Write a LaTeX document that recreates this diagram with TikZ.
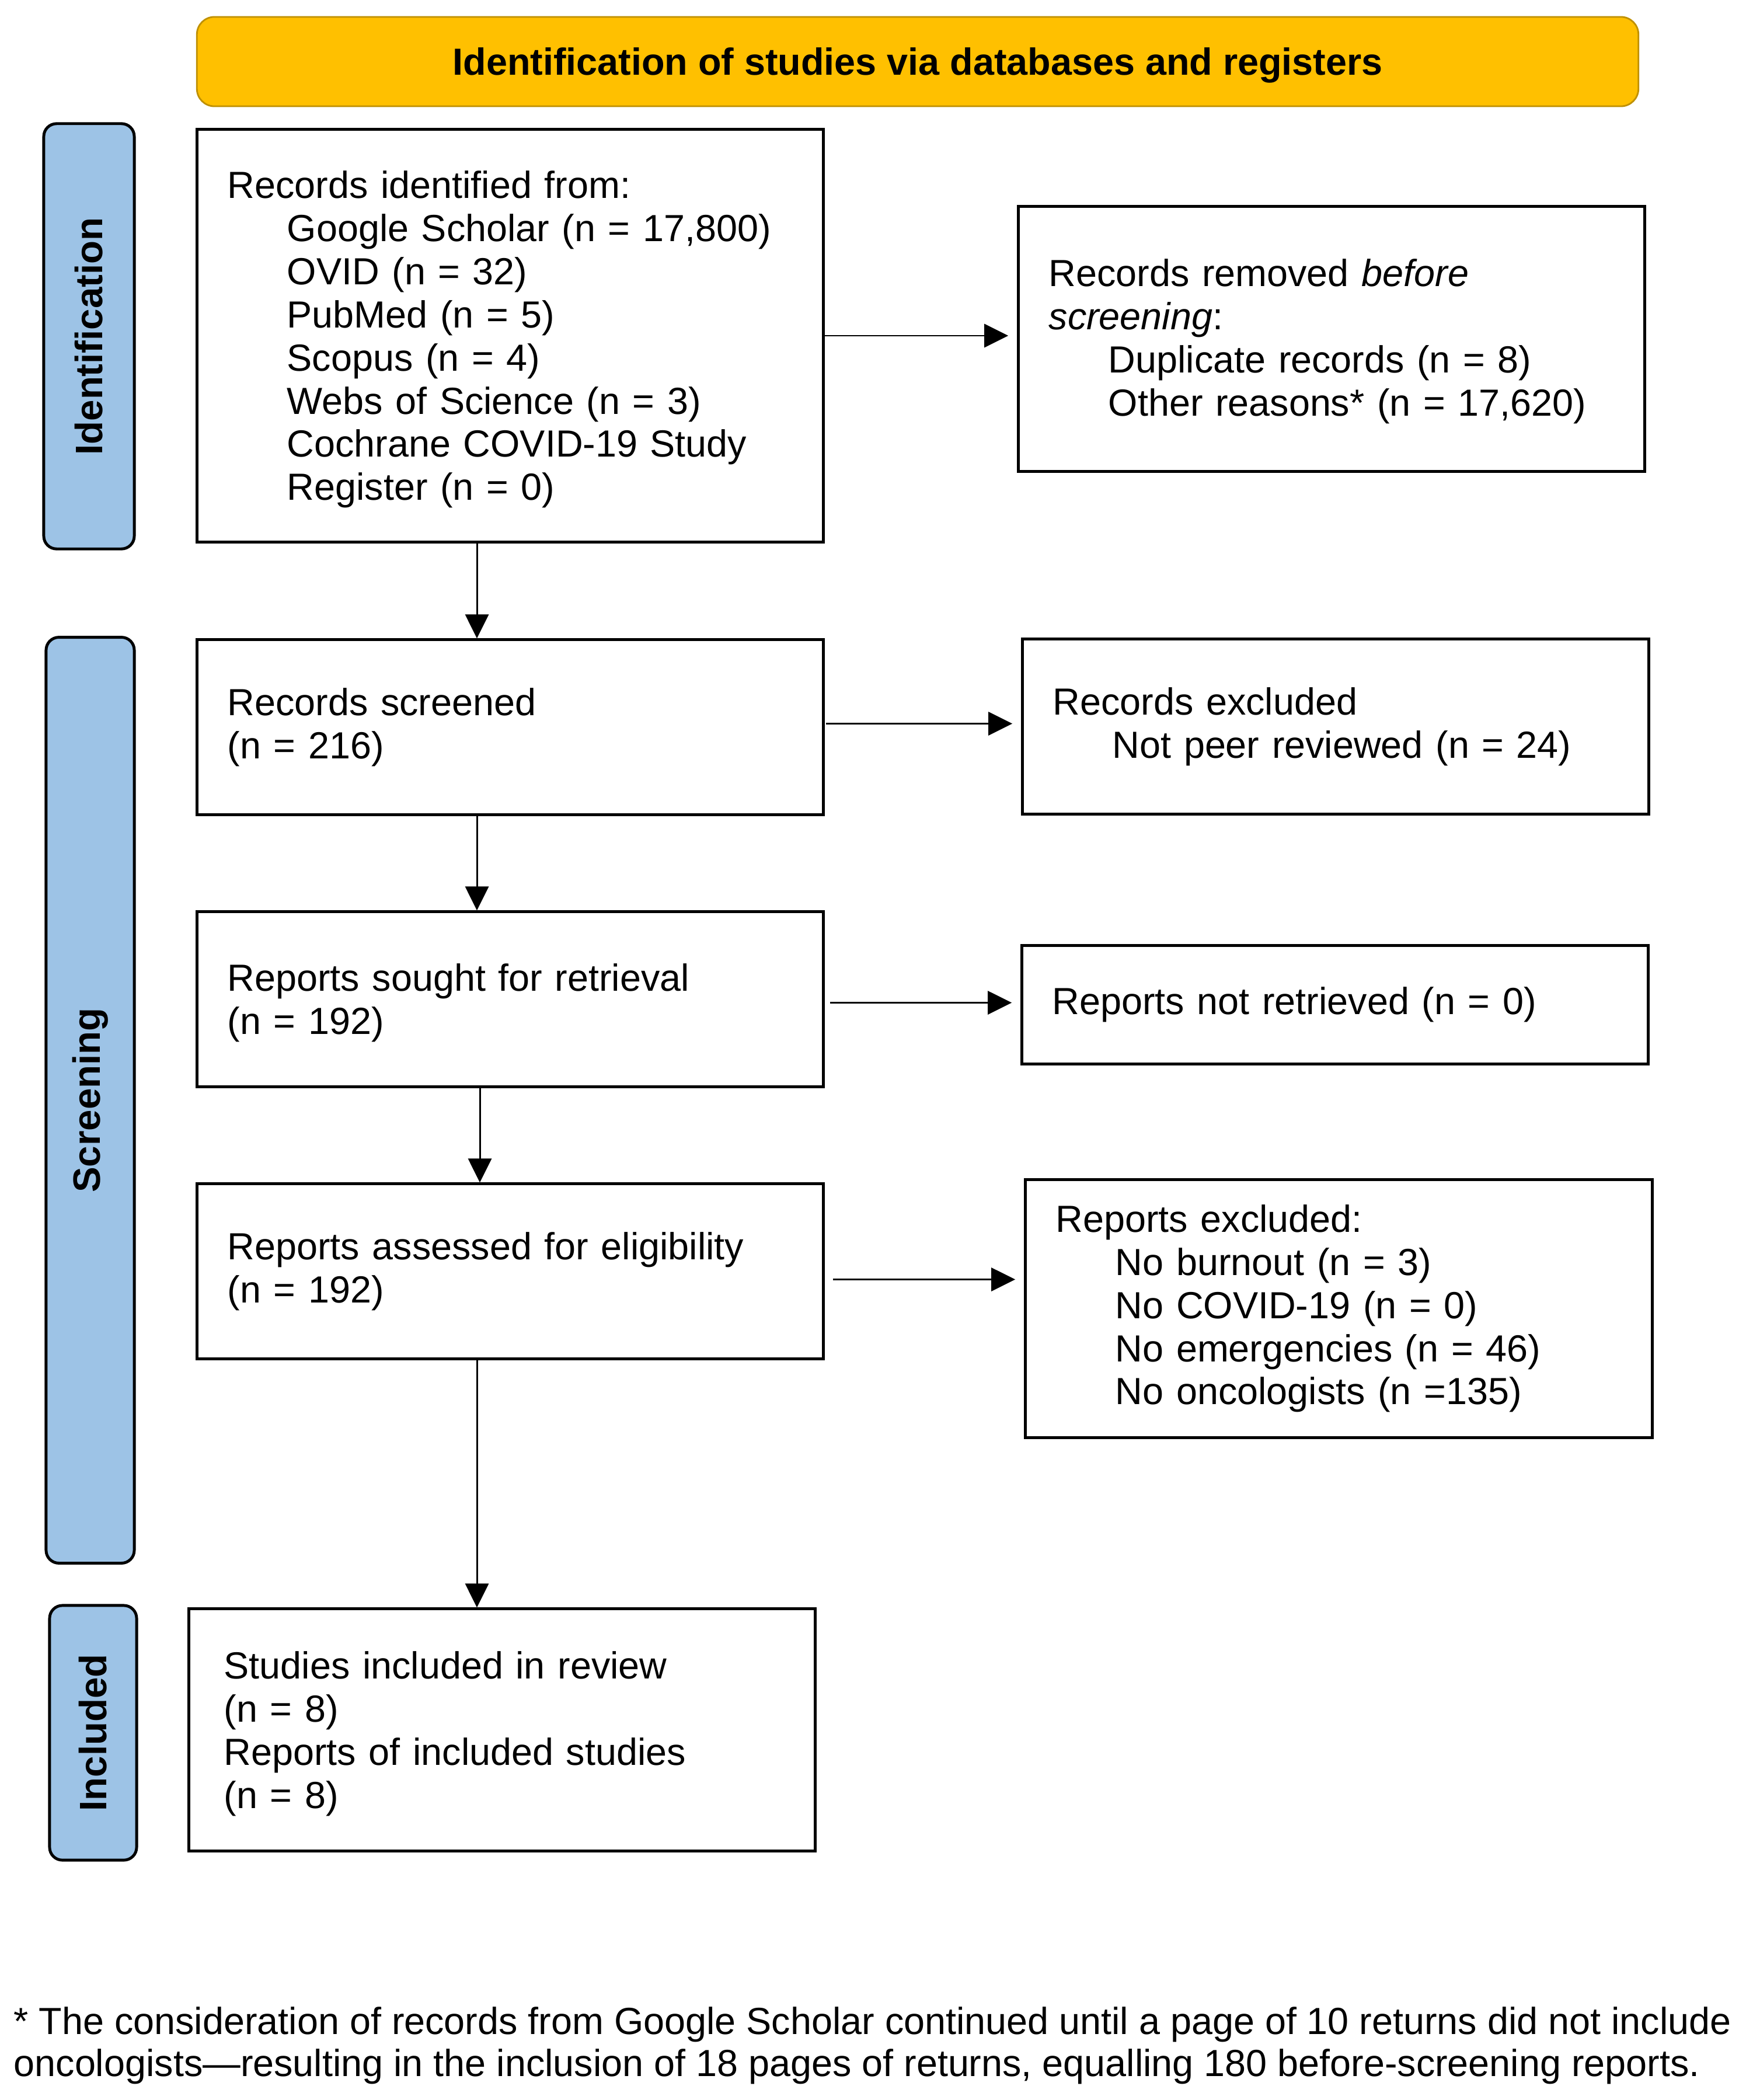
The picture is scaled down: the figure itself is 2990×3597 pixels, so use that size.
\documentclass[tikz,border=0pt]{standalone}
\usepackage{fontspec}
\setmainfont{Liberation Sans}
\usetikzlibrary{arrows.meta}
\definecolor{hdrfill}{RGB}{255,192,0}
\definecolor{hdrdraw}{RGB}{191,144,0}
\definecolor{barfill}{RGB}{157,195,230}
\newcommand{\topstrut}{\rule{0pt}{0.60cm}}
\begin{document}
\begin{tikzpicture}[x=0.01cm,y=-0.01cm,
  font=\fontsize{18.4}{21}\selectfont,
  pbox/.style={draw, line width=1.4pt, rectangle, inner xsep=0.52cm, inner ysep=0pt, align=left, text width=#1},
  bar/.style={draw, line width=1.4pt, fill=barfill, rounded corners=0.22cm, rotate=90, font=\fontsize{18.6}{21}\selectfont\bfseries, inner sep=0pt},
  arr/.style={line width=0.85pt, -{Triangle[length=0.41cm,width=0.40cm]}},
  harr/.style={arr, shorten >=0.15cm}]
\useasboundingbox (0,0) rectangle (2990,3597);
\fill[white] (0,0) rectangle (2990,3597);

% header
\node[draw=hdrdraw, line width=0.8pt, fill=hdrfill, rounded corners=0.3cm,
      minimum width=24.68cm, minimum height=1.53cm, inner sep=0pt,
      font=\fontsize{18.4}{21}\selectfont\bfseries, text depth=0pt] (hdr) at (1572,105.5)
      {Identification of studies via databases and registers};

% side bars
\node[bar, minimum width=7.28cm, minimum height=1.55cm] (idbar) at (152.5,576) {Identification};
\node[bar, minimum width=15.85cm, minimum height=1.51cm] (scbar) at (154.5,1884.5) {Screening};
\node[bar, minimum width=4.36cm, minimum height=1.49cm] (inbar) at (159.5,2968) {Included};

% main boxes
\node[pbox=9.68cm, minimum height=7.06cm] (b1) at (874,575)
  {\topstrut Records identified from:\\
   \hspace*{1.02cm}Google Scholar (n = 17,800)\\
   \hspace*{1.02cm}OVID (n = 32)\\
   \hspace*{1.02cm}PubMed (n = 5)\\
   \hspace*{1.02cm}Scopus (n = 4)\\
   \hspace*{1.02cm}Webs of Science (n = 3)\\
   \hspace*{1.02cm}Cochrane COVID-19 Study\\
   \hspace*{1.02cm}Register (n = 0)};
\node[pbox=9.68cm, minimum height=4.53cm] (rem) at (2281,580.5)
  {\rule{0pt}{0.55cm}Records removed \textit{before}\\
   \textit{screening}:\\
   \hspace*{1.02cm}Duplicate records (n = 8)\\
   \hspace*{1.02cm}Other reasons* (n = 17,620)};

\node[pbox=9.68cm, minimum height=2.99cm] (b2) at (874,1245.5)
  {Records screened\\(n = 216)};
\node[pbox=9.68cm, minimum height=2.99cm] (exc) at (2288,1244.5)
  {Records excluded\\
   \hspace*{1.02cm}Not peer reviewed (n = 24)};

\node[pbox=9.68cm, minimum height=2.99cm] (b3) at (874,1711.5)
  {\topstrut Reports sought for retrieval\\(n = 192)};
\node[pbox=9.68cm, minimum height=2.02cm] (nr) at (2287,1721)
  {Reports not retrieved (n = 0)};

\node[pbox=9.68cm, minimum height=2.99cm] (b4) at (874,2177.5)
  {Reports assessed for eligibility\\(n = 192)};
\node[pbox=9.69cm, minimum height=4.41cm] (rex) at (2293.5,2241.5)
  {Reports excluded:\\
   \hspace*{1.02cm}No burnout (n = 3)\\
   \hspace*{1.02cm}No COVID-19 (n = 0)\\
   \hspace*{1.02cm}No emergencies (n = 46)\\
   \hspace*{1.02cm}No oncologists (n =135)};

\node[pbox=9.52cm, inner xsep=0.60cm, minimum height=4.14cm] (b5) at (860,2963)
  {\topstrut Studies included in review\\
   (n = 8)\\
   Reports of included studies\\
   (n = 8)};

% footnote
\node[anchor=base west, inner sep=0pt] (fn1) at (23,3484)
  {* The consideration of records from Google Scholar continued until a page of 10 returns did not include};
\node[anchor=base west, inner sep=0pt] (fn2) at (23,3556)
  {oncologists—resulting in the inclusion of 18 pages of returns, equalling 180 before-screening reports.};

% connectors
\coordinate (vx) at (817,0);
\coordinate (vx3) at (822,0);
\draw[arr] (b1.south -| vx) -- (b2.north -| vx);
\draw[arr] (b2.south -| vx) -- (b3.north -| vx);
\draw[arr] (b3.south -| vx3) -- (b4.north -| vx3);
\draw[arr] (b4.south -| vx) -- (b5.north -| vx);

\draw[harr] (b1.east) -- (rem.west |- b1.east);
\coordinate (a2s) at ([shift={(2,-6)}]b2.east);
\draw[harr] (a2s) -- (a2s -| exc.west);
\coordinate (a3s) at ([shift={(9,6)}]b3.east);
\draw[harr] (a3s) -- (a3s -| nr.west);
\coordinate (a4s) at ([shift={(14,14)}]b4.east);
\draw[harr] (a4s) -- (a4s -| rex.west);
\end{tikzpicture}
\end{document}
